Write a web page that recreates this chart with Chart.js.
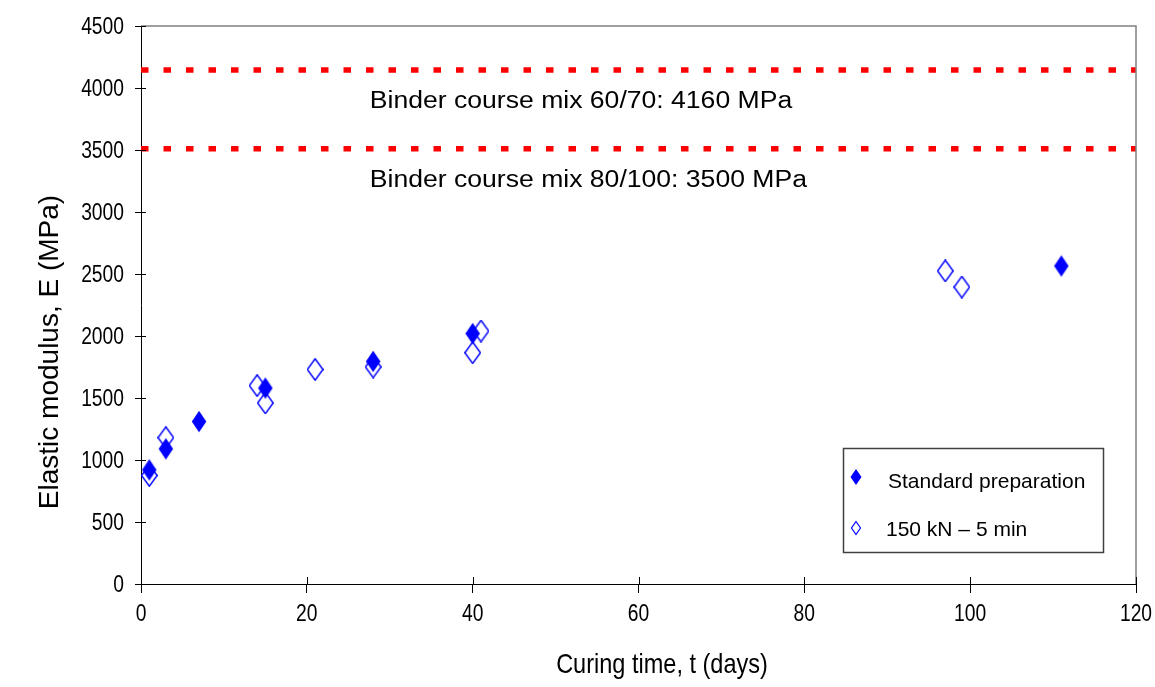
<!DOCTYPE html>
<html>
<head>
<meta charset="utf-8">
<script src="https://cdn.jsdelivr.net/npm/chart.js@4"></script>
<style>
  html, body { margin: 0; padding: 0; background: #fff; }
  #wrap { width: 1155px; height: 687px; }
</style>
</head>
<body>
<div id="wrap"><canvas id="grafico" width="1155" height="687"></canvas></div>
<script>
// valores
const diasPadrao = [1, 3, 7, 15, 28, 40, 111];
const moduloPadrao = [920, 1090, 1310, 1580, 1795, 2020, 2565];
const diasPrensa = [1, 3, 14, 15, 21, 28, 40, 41, 97, 99];
const moduloPrensa = [875, 1180, 1600, 1460, 1730, 1750, 1865, 2040, 2525, 2395];
const nomesSeries = ["Standard preparation", "150 kN \u2013 5 min"];
const textosLigante = ["Binder course mix 60/70: 4160 MPa", "Binder course mix 80/100: 3500 MPa"];
const niveisLigante = [4145, 3510];
const tituloX = "Curing time, t (days)";
const tituloY = "Elastic modulus, E (MPa)";

const fonte = "'Liberation Sans', Arial, sans-serif";
const azul = "#0000ff";

function fazerLosango(w, h, cheio) {
  const c = document.createElement("canvas");
  c.width = w; c.height = h;
  const ctx = c.getContext("2d");
  ctx.beginPath();
  ctx.moveTo(w / 2, 0.75);
  ctx.lineTo(w - 0.75, h / 2);
  ctx.lineTo(w / 2, h - 0.75);
  ctx.lineTo(0.75, h / 2);
  ctx.closePath();
  if (cheio) {
    ctx.fillStyle = azul;
    ctx.fill();
  } else {
    ctx.strokeStyle = azul;
    ctx.lineWidth = 1.4;
    ctx.stroke();
  }
  return c;
}

const losangoCheio = fazerLosango(16, 23, true);
const losangoVazio = fazerLosango(17, 23, false);

const pontos = (xs, ys) => xs.map((x, i) => ({ x, y: ys[i] }));

const linhasLigante = niveisLigante.map(v => ({
  type: "line",
  data: [{ x: 0, y: v }, { x: 120, y: v }],
  borderColor: "#ff0000",
  borderWidth: 5.5,
  borderDash: [7.5, 15],
  borderCapStyle: "butt",
  pointRadius: 0,
  fill: false,
}));

// texto com escala horizontal (o original é meio estreito/esticado)
function textoEsticado(ctx, txt, x, y, fator) {
  ctx.save();
  ctx.translate(x, y);
  ctx.scale(fator, 1);
  ctx.fillText(txt, 0, 0);
  ctx.restore();
}

const extras = {
  id: "extras",
  afterDraw(chart) {
    const { ctx, chartArea: a, scales } = chart;
    const sx = scales.x, sy = scales.y;
    ctx.save();

    // borda cinza em cima e à direita
    ctx.strokeStyle = "#808080";
    ctx.lineWidth = 1.5;
    ctx.beginPath();
    ctx.moveTo(a.left, a.top);
    ctx.lineTo(a.right, a.top);
    ctx.lineTo(a.right, a.bottom);
    ctx.stroke();

    // parte interna dos tracinhos
    ctx.strokeStyle = "#000";
    ctx.lineWidth = 1;
    ctx.beginPath();
    sy.ticks.forEach(t => {
      const y = Math.round(sy.getPixelForValue(t.value)) + 0.5;
      ctx.moveTo(a.left, y);
      ctx.lineTo(a.left + 5, y);
    });
    sx.ticks.forEach(t => {
      const x = Math.round(sx.getPixelForValue(t.value)) + 0.5;
      ctx.moveTo(x, a.bottom);
      ctx.lineTo(x, a.bottom - 7);
    });
    ctx.stroke();

    // rótulos dos eixos
    ctx.fillStyle = "#000";
    ctx.font = "23.5px " + fonte;
    ctx.textBaseline = "alphabetic";
    ctx.textAlign = "right";
    sy.ticks.forEach(t => {
      textoEsticado(ctx, String(t.value), a.left - 17, sy.getPixelForValue(t.value) + 8.4, 0.82);
    });
    ctx.textAlign = "center";
    sx.ticks.forEach(t => {
      textoEsticado(ctx, String(t.value), sx.getPixelForValue(t.value), a.bottom + 37, 0.82);
    });

    // textos das linhas vermelhas
    ctx.font = "23px " + fonte;
    ctx.textAlign = "left";
    textosLigante.forEach((txt, i) => {
      textoEsticado(ctx, txt, sx.getPixelForValue(27.6), sy.getPixelForValue(niveisLigante[i]) + 38, 1.155);
    });

    // títulos dos eixos
    ctx.font = "28px " + fonte;
    ctx.textAlign = "center";
    ctx.textBaseline = "middle";
    textoEsticado(ctx, tituloX, 662, 665, 0.84);

    ctx.save();
    ctx.translate(50, 352);
    ctx.rotate(-Math.PI / 2);
    ctx.fillText(tituloY, 0, 0);
    ctx.restore();

    // legenda
    const lx = 843, ly = 448, lw = 260, lh = 104;
    ctx.fillStyle = "#fff";
    ctx.fillRect(lx, ly, lw, lh);
    ctx.strokeStyle = "#404040";
    ctx.lineWidth = 1.5;
    ctx.strokeRect(lx + 0.5, ly + 0.5, lw, lh);

    ctx.fillStyle = azul;
    ctx.beginPath();
    ctx.moveTo(856, 469); ctx.lineTo(861.5, 477); ctx.lineTo(856, 485); ctx.lineTo(850.5, 477);
    ctx.closePath();
    ctx.fill();

    ctx.strokeStyle = azul;
    ctx.lineWidth = 1.2;
    ctx.beginPath();
    ctx.moveTo(856, 521.5); ctx.lineTo(860.5, 528); ctx.lineTo(856, 534.5); ctx.lineTo(851.5, 528);
    ctx.closePath();
    ctx.stroke();

    ctx.fillStyle = "#000";
    ctx.font = "21px " + fonte;
    ctx.textAlign = "left";
    ctx.textBaseline = "alphabetic";
    ctx.fillText(nomesSeries[0], 888, 488);
    ctx.fillText(nomesSeries[1], 886, 536);

    ctx.restore();
  }
};

new Chart(document.getElementById("grafico"), {
  type: "scatter",
  data: {
    datasets: [
      {
        label: nomesSeries[0],
        data: pontos(diasPadrao, moduloPadrao),
        pointStyle: losangoCheio,
      },
      {
        label: nomesSeries[1],
        data: pontos(diasPrensa, moduloPrensa),
        pointStyle: losangoVazio,
      },
      ...linhasLigante,
    ],
  },
  options: {
    responsive: false,
    animation: false,
    events: [],
    layout: { padding: { top: 26, right: 19, left: 0, bottom: 0 } },
    plugins: { legend: { display: false }, tooltip: { enabled: false } },
    scales: {
      x: {
        type: "linear",
        min: 0, max: 120,
        afterFit: s => { s.height = 103; },
        ticks: { stepSize: 20, display: false },
        grid: { drawOnChartArea: false, tickLength: 9, color: "#000", tickColor: "#000" },
        border: { color: "#000", width: 1 },
      },
      y: {
        min: 0, max: 4500,
        afterFit: s => { s.width = 141; },
        ticks: { stepSize: 500, display: false },
        grid: { drawOnChartArea: false, tickLength: 6, color: "#000", tickColor: "#000" },
        border: { color: "#000", width: 1 },
      },
    },
  },
  plugins: [extras],
});
</script>
</body>
</html>
